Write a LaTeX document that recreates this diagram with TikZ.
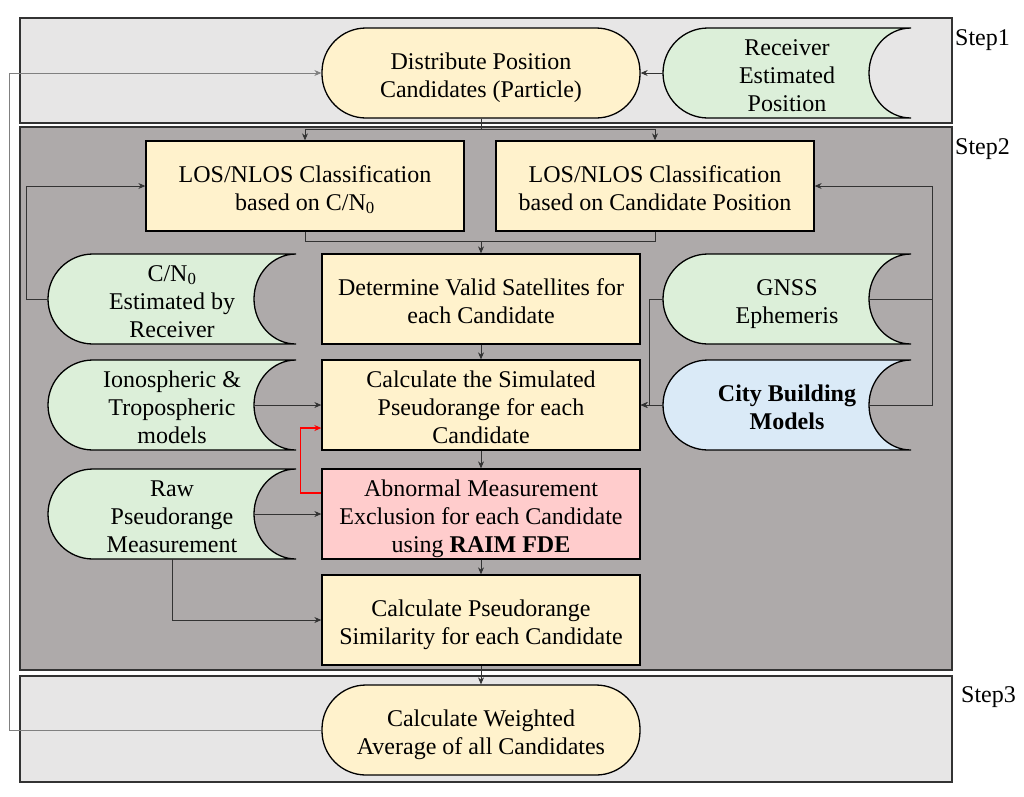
\documentclass[tikz,border=0pt]{standalone}
\usepackage{fontspec}
\setmainfont{Liberation Serif}
\usetikzlibrary{arrows.meta,calc}
\definecolor{cream}{HTML}{FFF2CC}
\definecolor{mint}{HTML}{DCEFD9}
\definecolor{sky}{HTML}{DAEAF7}
\definecolor{pinkbox}{HTML}{FFCCCC}
\definecolor{panelA}{HTML}{E7E6E6}
\definecolor{panelB}{HTML}{AEAAAA}
\newcommand{\fs}{\rule{0pt}{26pt}}
\newcommand{\ls}{\rule[-6pt]{0pt}{6pt}}
\newcommand{\dstore}[5]{%
  \draw[dsline, fill=#4] ({#2-79},{#3-45}) arc[start angle=90,end angle=270,radius=45pt]
     -- ({#2+124},{#3+45}) arc[start angle=-90,end angle=-270,x radius=42pt,y radius=45pt] -- cycle;
  \node[dsnode] (#1) at (#2,#3) {\fs #5\ls};
}
\begin{document}
\begin{tikzpicture}[x=1pt,y=-1pt,
  font=\fontsize{24}{28}\selectfont,
  panel/.style={draw=black!80, line width=1.6pt},
  proc/.style={draw=black, line width=1.3pt, fill=cream, minimum width=318pt, minimum height=90pt, align=center, inner sep=0pt},
  term/.style={proc, rounded corners=44pt},
  dsnode/.style={minimum width=248pt, minimum height=90pt, align=center, inner sep=0pt},
  dsline/.style={draw=black, line width=1.3pt},
  conn/.style={line width=0.9pt, draw=black!80},
  arr/.style={conn, -{Stealth[length=7pt,width=6pt]}},
  fb/.style={line width=0.9pt, draw=black!50, -{Stealth[length=7pt,width=6pt]}},
  steplabel/.style={anchor=west, inner sep=0pt}
]
\useasboundingbox (0,0) rectangle (1024,796);
% panels
\draw[panel, fill=panelA] (20,18) rectangle (952,123);
\draw[panel, fill=panelB] (20,127) rectangle (952,670);
\draw[panel, fill=panelA] (20,676) rectangle (952,782);
\node[steplabel] (s1) at (955,40) {Step1};
\node[steplabel] (s2) at (955,149) {Step2};
\node[steplabel] (s3) at (961,697) {Step3};
% process nodes
\node[term] (dist) at (481,73) {\fs Distribute Position\\Candidates (Particle)\ls};
\node[proc] (los1) at (305,186) {\fs LOS/NLOS Classification\\based on C/N\textsubscript{0}\ls};
\node[proc] (los2) at (655,186) {\fs LOS/NLOS Classification\\based on Candidate Position\ls};
\node[proc] (valid) at (481,299) {\fs Determine Valid Satellites for\\each Candidate\ls};
\node[proc] (sim) at (481,405) {\fs Calculate the Simulated\\Pseudorange for each\\Candidate\ls};
\node[proc, fill=pinkbox] (abn) at (481,514) {\fs Abnormal Measurement\\Exclusion for each Candidate\\using \textbf{RAIM FDE}\ls};
\node[proc] (simil) at (481,620) {\fs Calculate Pseudorange\\Similarity for each Candidate\ls};
\node[term] (avg) at (481,730) {\fs Calculate Weighted\\Average of all Candidates\ls};
% data stores
\dstore{recv}{787}{73}{mint}{Receiver\\Estimated\\Position}
\dstore{cn0}{172}{299}{mint}{C/N\textsubscript{0}\\Estimated by\\Receiver}
\dstore{iono}{172}{405}{mint}{Ionospheric \&\\Tropospheric\\models}
\dstore{raw}{172}{514}{mint}{Raw\\Pseudorange\\Measurement}
\dstore{gnss}{787}{299}{mint}{GNSS\\Ephemeris}
\dstore{city}{787}{405}{sky}{\textbf{City Building}\\\textbf{Models}}
% connectors
\draw[arr] (recv.west) -- (dist.east);
\coordinate (split) at (481,129);
\draw[conn] (dist.south) -- (split);
\draw[arr] (split) -| (los1.north);
\draw[arr] (split) -| (los2.north);
\coordinate (merge) at (481,241);
\draw[conn] (los1.south) |- (merge);
\draw[conn] (los2.south) |- (merge);
\draw[arr] (merge) -- (valid.north);
\draw[arr] (valid.south) -- (sim.north);
\draw[arr] (sim.south) -- (abn.north);
\draw[arr] (abn.south) -- (simil.north);
\draw[arr] (simil.south) -- (avg.north);
\draw[arr] (cn0.west) -- ++(-21,0) |- (los1.west);
\draw[arr] ([xshift=-42pt]iono.east) -- (sim.west);
\draw[arr, draw=red, line width=1.3pt] ([yshift=21pt]abn.west) -- ++(-21,0) |- ([yshift=-23pt]sim.west);
\draw[arr] ([xshift=-42pt]raw.east) -- (abn.west);
\draw[arr] (raw.south) |- (simil.west);
\draw[conn] ([xshift=-42pt]gnss.east) -- ++(63,0);
\draw[arr] ([xshift=-42pt]city.east) -- ++(63,0) |- (los2.east);
\draw[arr] (gnss.west) -- ++(-13,0) |- (sim.east);
\draw[arr] (city.west) -- (sim.east);
\draw[fb] (avg.west) -- ++(-312,0) |- (dist.west);
\end{tikzpicture}
\end{document}
